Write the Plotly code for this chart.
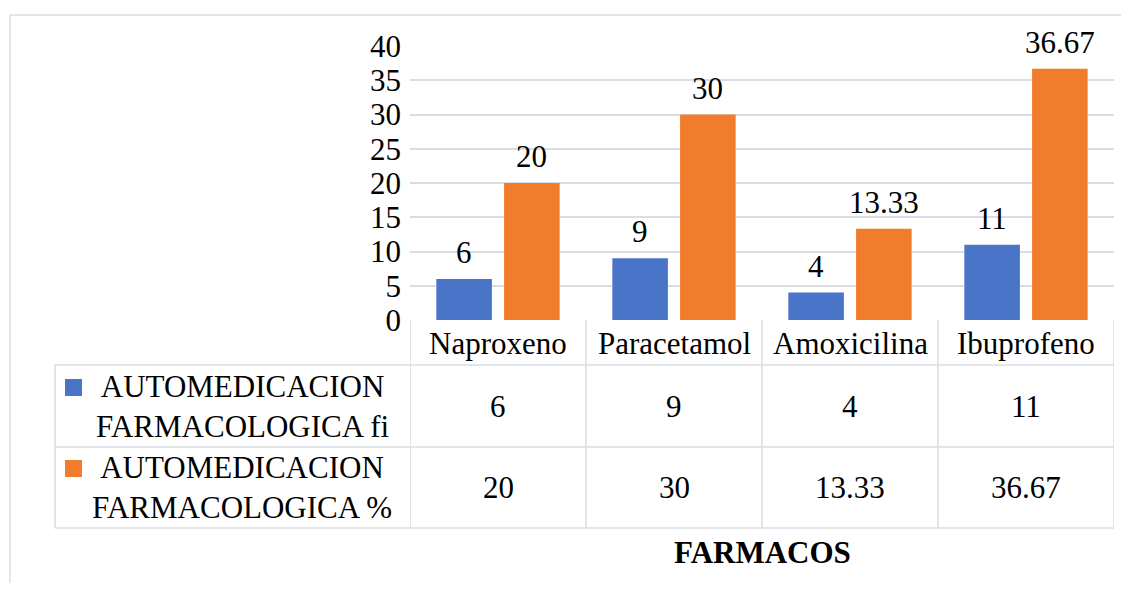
import plotly.graph_objects as go

categories = ["Naproxeno", "Paracetamol", "Amoxicilina", "Ibuprofeno"]
fi_values = [6, 9, 4, 11]
pct_values = [20, 30, 13.33, 36.67]
series_names = ["AUTOMEDICACION<br>FARMACOLOGICA fi", "AUTOMEDICACION<br>FARMACOLOGICA %"]
y_ticks = [0, 5, 10, 15, 20, 25, 30, 35, 40]
x_title = "FARMACOS"

OFF = 8  # page body margin
W, H = 1129 - 2 * OFF, 591 - 2 * OFF
# targets in screen pixels
SL, SR, ST, SB = 410, 1114, 46, 320
L, T = SL - OFF, ST - OFF
R = W - (SR - OFF)
B = H - (SB - OFF)
PW, PH = W - L - R, H - T - B

def px(x):
    return (x - SL) / PW

def py(y):
    return (SB - y) / PH

FONT = "Times New Roman, Liberation Serif, DejaVu Serif, serif"
FS = 31
BLUE = "#4a74c8"
ORANGE = "#ef7d2c"
GRID = "#dadee4"
BARGAP, GROUPGAP = 0.23, 0.18

fig = go.Figure()
fig.add_trace(go.Bar(x=categories, y=fi_values, marker=dict(color=BLUE, line=dict(width=0)), name="fi"))
fig.add_trace(go.Bar(x=categories, y=pct_values, marker=dict(color=ORANGE, line=dict(width=0)), name="pct"))

shapes = []
lw = 1.6
# outer chart border
shapes.append(dict(type="line", xref="paper", yref="paper", x0=px(10), x1=px(1140), y0=py(15), y1=py(15),
                   line=dict(color=GRID, width=1.5)))
shapes.append(dict(type="line", xref="paper", yref="paper", x0=px(10), x1=px(10), y0=py(15), y1=py(600),
                   line=dict(color=GRID, width=1.5)))
# table horizontal lines
row_lines = [365, 447, 528]
for yy in row_lines:
    shapes.append(dict(type="line", xref="paper", yref="paper", x0=px(55), x1=1, y0=py(yy), y1=py(yy),
                       line=dict(color=GRID, width=lw)))
# table vertical lines (category boundaries)
n = len(categories)
for i in range(n + 1):
    xb = i - 0.5
    shapes.append(dict(type="line", xref="x", yref="paper", x0=xb, x1=xb, y0=0, y1=py(528),
                       line=dict(color=GRID, width=lw)))
shapes.append(dict(type="line", xref="paper", yref="paper", x0=px(55), x1=px(55), y0=py(365), y1=py(528),
                   line=dict(color=GRID, width=lw)))
# legend keys
for (y0, y1), col in zip([(379, 396), (460, 477)], [BLUE, ORANGE]):
    shapes.append(dict(type="rect", xref="paper", yref="paper", x0=px(65), x1=px(82), y0=py(y1), y1=py(y0),
                       fillcolor=col, line=dict(width=0)))

annotations = []
txt_font = dict(family=FONT, size=FS, color="black")
# bar value labels
slot_px = PW / n * (1 - BARGAP) / 2
for vals, sgn in zip([fi_values, pct_values], [-1, 1]):
    for c, v in zip(categories, vals):
        annotations.append(dict(x=c, y=v, xref="x", yref="y", text=f"{v:g}", showarrow=False,
                                xanchor="center", yanchor="bottom", xshift=sgn * slot_px / 2, yshift=7,
                                font=txt_font))
hdr_y = py(343)
row_ys = [py(406), py(487)]
for c in categories:
    annotations.append(dict(x=c, y=hdr_y, xref="x", yref="paper", text=c, showarrow=False,
                            xanchor="center", yanchor="middle", font=txt_font))
for vals, ry in zip([fi_values, pct_values], row_ys):
    for c, v in zip(categories, vals):
        annotations.append(dict(x=c, y=ry, xref="x", yref="paper", text=f"{v:g}", showarrow=False,
                                xanchor="center", yanchor="middle", font=txt_font))
for name, ry in zip(series_names, row_ys):
    annotations.append(dict(x=px(242), y=ry, xref="paper", yref="paper", text=name, showarrow=False,
                            xanchor="center", yanchor="middle", align="center", font=txt_font))
annotations.append(dict(x=0.5, y=py(552), xref="paper", yref="paper", text=f"<b>{x_title}</b>",
                        showarrow=False, xanchor="center", yanchor="middle", font=txt_font))

fig.update_layout(
    width=W, height=H,
    margin=dict(l=L, r=R, t=T, b=B, autoexpand=False),
    paper_bgcolor="white", plot_bgcolor="white",
    showlegend=False,
    barmode="group", bargap=BARGAP, bargroupgap=GROUPGAP,
    shapes=shapes, annotations=annotations,
    xaxis=dict(showticklabels=False, ticks="", showgrid=False, showline=False, zeroline=False,
               range=[-0.5, n - 0.5], fixedrange=True),
    yaxis=dict(range=[0, 40], tickvals=y_ticks, showgrid=True, gridcolor=GRID, gridwidth=1.5,
               zeroline=False, showline=False, ticks="", ticklabelstandoff=8,
               tickfont=txt_font),
)

fig.write_html("out.html")
